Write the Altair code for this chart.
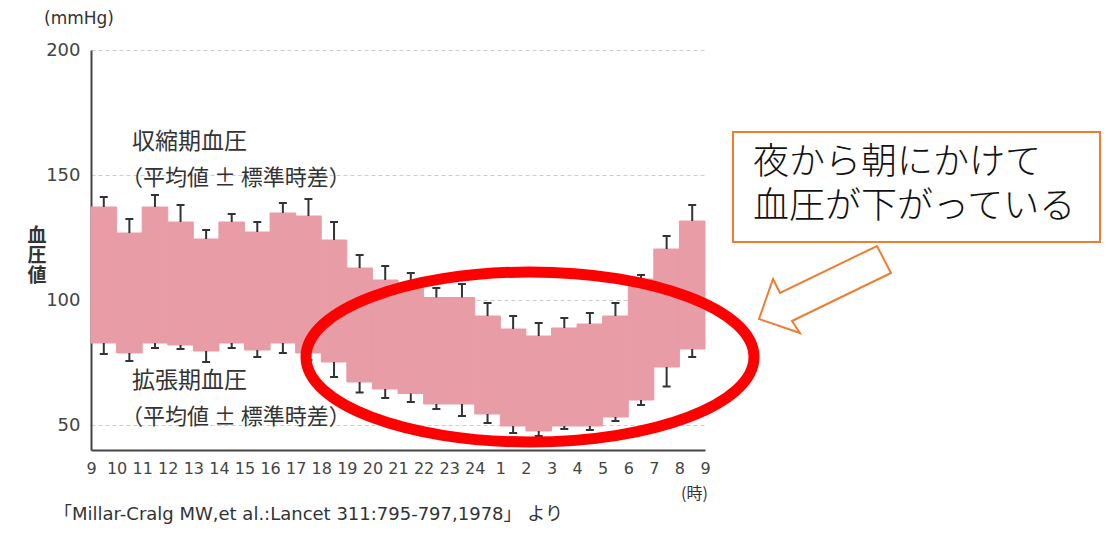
import altair as alt
import pandas as pd

# ---------------- data ----------------
hour_labels = ["9", "10", "11", "12", "13", "14", "15", "16", "17", "18", "19", "20",
               "21", "22", "23", "24", "1", "2", "3", "4", "5", "6", "7", "8", "9"]

systolic_mean = [137.2, 126.8, 137.2, 131.2, 124.4, 131.2, 127.2, 134.8, 133.6, 124.0,
                 112.8, 108.0, 106.8, 101.0, 101.0, 93.6, 88.4, 85.6, 88.8, 90.4,
                 93.6, 108.4, 120.4, 131.6]
systolic_upper = [141.2, 132.4, 142.0, 138.0, 128.0, 134.4, 131.2, 138.8, 140.4, 131.2,
                  118.0, 113.6, 110.8, 104.8, 106.4, 98.8, 93.6, 90.8, 92.8, 94.8,
                  98.8, 110.0, 125.6, 138.0]
diastolic_mean = [82.8, 78.8, 82.8, 82.0, 79.6, 82.8, 80.0, 82.8, 78.8, 75.2,
                  67.2, 64.4, 62.6, 58.4, 58.4, 54.4, 49.6, 47.6, 49.6, 49.6,
                  53.2, 60.0, 73.2, 80.4]
diastolic_lower = [78.4, 75.6, 80.8, 80.4, 75.2, 80.8, 77.2, 78.8, 76.0, 69.2,
                   63.0, 60.8, 59.2, 56.4, 53.6, 50.8, 46.8, 45.6, 48.4, 48.0,
                   51.6, 58.0, 65.4, 77.2]

y_ticks = [50, 100, 150, 200]

texts = {
    "unit": "(mmHg)",
    "sys1": "収縮期血圧",
    "sys2": "（平均値 ± 標準時差）",
    "dia1": "拡張期血圧",
    "dia2": "（平均値 ± 標準時差）",
    "xunit": "(時)",
    "cite": "「Millar-Cralg MW,et al.:Lancet 311:795-797,1978」 より",
    "note1": "夜から朝にかけて",
    "note2": "血圧が下がっている",
}
ylabel_chars = ["血", "圧", "値"]

# ---------------- style ----------------
PINK = "#E89CA6"
DARK = "#333333"
ORANGE = "#ED7D31"
JP = "Noto Sans CJK JP, Noto Sans, DejaVu Sans"
NUM = "DejaVu Sans, Verdana, sans-serif"

X0, Y0 = 91, 50          # page position of plot origin
W, H = 614, 400

n = len(systolic_mean)
df = pd.DataFrame({
    "start": list(range(n)),
    "end": list(range(1, n + 1)),
    "mid": [i + 0.5 for i in range(n)],
    "sys": systolic_mean,
    "sys_hi": systolic_upper,
    "dia": diastolic_mean,
    "dia_lo": diastolic_lower,
})

xs = alt.Scale(domain=[0, n], nice=False, zero=False)
ys = alt.Scale(domain=[40, 200], nice=False, zero=False)

label_array = "[" + ",".join("'" + s + "'" for s in hour_labels) + "]"

x_axis = alt.Axis(values=list(range(n + 1)), labelExpr=label_array + "[datum.value]",
                  ticks=False, tickSize=0, grid=False, labelFont=NUM, labelFontSize=16,
                  labelColor="#444444", labelPadding=10, domainColor="#444444", domainWidth=2,
                  labelOverlap=False, labelFlush=False, labelBound=False, title=None)
y_axis = alt.Axis(values=y_ticks, ticks=False, tickSize=0, grid=True, gridColor="#cccccc",
                  gridDash=[4, 3], gridWidth=1, labelFont=NUM, labelFontSize=18,
                  labelColor="#444444", labelPadding=11, domainColor="#444444", domainWidth=2,
                  title=None)


def X(field):
    return alt.X(field, scale=xs, axis=x_axis, title=None)


def Y(field):
    return alt.Y(field, scale=ys, axis=y_axis, title=None)


base = alt.Chart(df)

bars = base.mark_rect(color=PINK, stroke=PINK, strokeWidth=1, opacity=1).encode(
    x=X("start:Q"), x2="end", y=Y("dia:Q"), y2="sys")
err_up = base.mark_rule(color=DARK, strokeWidth=2).encode(
    x=X("mid:Q"), y=Y("sys:Q"), y2="sys_hi")
err_dn = base.mark_rule(color=DARK, strokeWidth=2).encode(
    x=X("mid:Q"), y=Y("dia_lo:Q"), y2="dia")
cap_up = base.mark_tick(orient="horizontal", color=DARK, thickness=2, size=8, opacity=1).encode(
    x=X("mid:Q"), y=Y("sys_hi:Q"))
cap_dn = base.mark_tick(orient="horizontal", color=DARK, thickness=2, size=8, opacity=1).encode(
    x=X("mid:Q"), y=Y("dia_lo:Q"))


def label(key, px, py, size, font=JP, color=DARK, align="left", weight="normal"):
    return alt.Chart(pd.DataFrame({"t": [texts[key]]})).mark_text(
        align=align, baseline="middle", fontSize=size, font=font, color=color,
        fontWeight=weight
    ).encode(x=alt.value(px - X0), y=alt.value(py - Y0), text="t:N")


one = pd.DataFrame({"k": [0]})

ylabel = alt.Chart(one).mark_text(
    align="center", baseline="middle", fontSize=19, font=JP, color=DARK,
    fontWeight="bold", lineHeight=20
).encode(x=alt.value(37 - X0), y=alt.value(236 - Y0), text=alt.value(ylabel_chars))

ellipse_path = "M-224,0 A224,85 0 1,1 224,0 A224,85 0 1,1 -224,0 Z"
ellipse = alt.Chart(one).mark_point(
    shape=ellipse_path, size=4, filled=False, color="#FF0000", stroke="#FF0000",
    strokeWidth=11, opacity=1
).encode(x=alt.value(530 - X0), y=alt.value(357 - Y0))

ax, ay = 825, 290
arrow_pts = [(759, 319), (773, 279), (780, 293), (877, 246), (891, 273), (792, 321), (800, 333)]
arrow_path = "M" + " L".join(f"{px - ax},{py - ay}" for px, py in arrow_pts) + " Z"
arrow = alt.Chart(one).mark_point(
    shape=arrow_path, size=4, filled=True, fill="white", stroke=ORANGE,
    strokeWidth=2, opacity=1, strokeJoin="miter"
).encode(x=alt.value(ax - X0), y=alt.value(ay - Y0))

box = alt.Chart(one).mark_rect(fill="white", stroke=ORANGE, strokeWidth=2).encode(
    x=alt.value(733 - X0), x2=alt.value(1100 - X0),
    y=alt.value(132 - Y0), y2=alt.value(242 - Y0))

labels = [
    label("unit", 44, 19, 17, font=NUM),
    label("sys1", 132, 142, 23),
    label("sys2", 121, 178, 22),
    label("dia1", 132, 381, 23),
    label("dia2", 121, 417, 22),
    label("xunit", 681, 494, 16),
    label("cite", 54, 515, 18, font=NUM + ", Noto Sans CJK JP"),
]

note = [
    label("note1", 753, 163, 36, color="#111111", weight=300),
    label("note2", 753, 207, 36, color="#111111", weight=300),
]

chart = alt.layer(
    bars, err_up, err_dn, cap_up, cap_dn, ylabel, *labels, ellipse, box, *note, arrow
).properties(
    width=W, height=H,
    autosize=alt.AutoSizeParams(type="none"),
    padding={"left": X0 - 8, "top": Y0 - 8, "right": 1094 - (X0 - 8) - W, "bottom": 77},
    background="white",
).configure_view(stroke=None)

chart.save("out.html", embed_options={"renderer": "svg", "actions": False})
